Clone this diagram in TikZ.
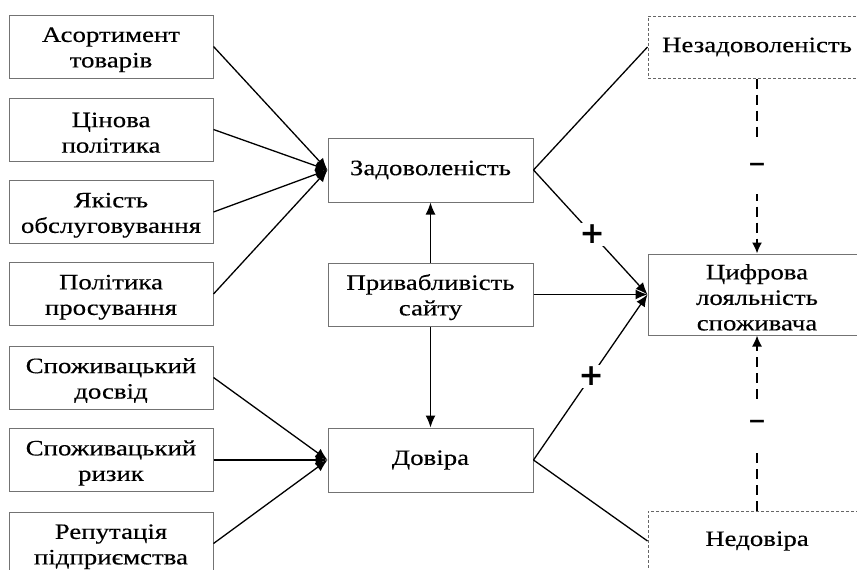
\documentclass[tikz,border=0pt]{standalone}
\usepackage{fontspec}
\setmainfont{Liberation Serif}[FakeStretch=1.22, FakeBold=0.3]
\newfontfamily\symfont{DejaVu Sans}
\usetikzlibrary{arrows.meta}
\newcommand\tstr{\rule{0pt}{21pt}}
\begin{document}
\begin{tikzpicture}[x=1pt,y=-1pt,
  box/.style={draw=black!55, line width=1pt, align=center, inner sep=0pt,
    font=\fontsize{22}{25.5}\selectfont},
  lbox/.style={box, minimum width=204pt, minimum height=63pt},
  mbox/.style={box, minimum width=205pt, minimum height=64pt},
  rbox/.style={box, minimum width=218pt},
  dbox/.style={rbox, draw=black!60, dash pattern=on 3pt off 2pt},
  conn/.style={line width=1.3pt, black},
  arr/.style={conn, -{Latex[length=12pt,width=10pt]}},
  darr/.style={line width=1.6pt, black, dash pattern=on 10pt off 6pt, -{Latex[length=11pt,width=10pt]}},
  plus/.style={fill=white, inner sep=2pt, font=\symfont\fontsize{30}{30}\bfseries\selectfont},
  minus/.style={fill=white, inner xsep=2pt, inner ysep=22pt, font=\symfont\fontsize{22}{22}\bfseries\selectfont}
]
\useasboundingbox (0,0) rectangle (857,570);
\fill[white] (0,0) rectangle (857,570);

% left boxes
\node[lbox] (a1) at (111,46.5) {\tstr Асортимент\\товарів};
\node[lbox] (a2) at (111,129.5) {\tstr Цінова\\політика};
\node[lbox] (a3) at (111,212) {\tstr Якість\\обслуговування};
\node[lbox] (a4) at (111,294) {\tstr Політика\\просування};
\node[lbox] (a5) at (111,377.5) {\tstr Споживацький\\досвід};
\node[lbox] (a6) at (111,460) {\tstr Споживацький\\ризик};
\node[lbox] (a7) at (111,543.5) {\tstr Репутація\\підприємства};

% middle boxes
\node[mbox] (zad) at (430.5,170) {Задоволеність};
\node[mbox, minimum height=63pt] (pry) at (430.5,294.5) {\tstr Привабливість\\сайту};
\node[mbox] (dov) at (430.5,460) {Довіра};

% right boxes
\node[dbox, minimum height=62pt] (nez) at (757,47) {Незадоволеність};
\node[rbox, minimum height=81pt] (loy) at (757,294.5) {\tstr Цифрова\\лояльність\\споживача};
\node[dbox, minimum height=60pt] (ned) at (757,541) {Недовіра};

% connectors into Задоволеність
\foreach \s in {a1,a2,a3,a4} \draw[arr] (\s.east) -- (zad.west);
% connectors into Довіра
\foreach \s in {a5,a6,a7} \draw[arr] (\s.east) -- (dov.west);

% vertical arrows from Привабливість
\draw[arr] (pry.north) -- (zad.south);
\draw[arr] (pry.south) -- (dov.north);

% to loyalty
\draw[conn] (zad.east) -- (nez.west);
\draw[arr] (zad.east) -- node[plus, pos=0.515] {+} (loy.west);
\draw[arr] (pry.east) -- (loy.west);
\draw[arr] (dov.east) -- node[plus, pos=0.505] {+} (loy.west);
\draw[conn] (dov.east) -- (ned.west);

% dashed negative influences
\draw[darr] (nez.south) -- node[minus, pos=0.51] {−} (loy.north);
\draw[darr] (ned.north) -- node[minus, pos=0.49] {−} (loy.south);
\end{tikzpicture}
\end{document}
